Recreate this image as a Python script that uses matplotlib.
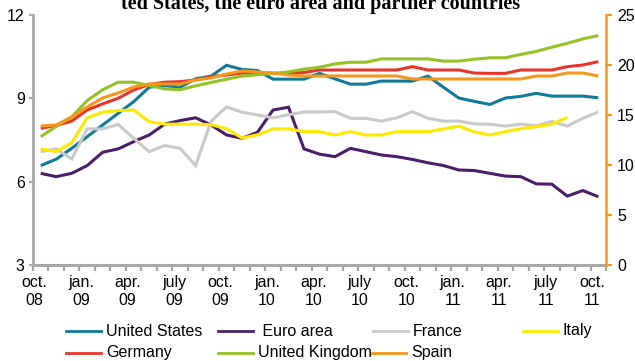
import numpy as np
import matplotlib
matplotlib.use("Agg")
import matplotlib.pyplot as plt
from matplotlib.lines import Line2D

# Monthly observations, October 2008 to October 2011
tick_labels = ["oct.\n08", "jan.\n09", "apr.\n09", "july\n09", "oct.\n09", "jan.\n10", "apr.\n10",
               "july\n10", "oct.\n10", "jan.\n11", "apr.\n11", "july\n11", "oct.\n11"]

united_states = [6.58, 6.81, 7.20, 7.62, 8.04, 8.46, 8.88, 9.40, 9.46, 9.40, 9.70, 9.80, 10.19,
                 10.04, 10.00, 9.69, 9.69, 9.69, 9.90, 9.70, 9.51, 9.51, 9.62, 9.62, 9.62, 9.80,
                 9.40, 9.01, 8.89, 8.78, 9.01, 9.07, 9.18, 9.08, 9.08, 9.08, 9.02]
euro_area = [6.30, 6.18, 6.30, 6.58, 7.06, 7.18, 7.44, 7.68, 8.07, 8.20, 8.30, 8.04, 7.68, 7.56,
             7.78, 8.58, 8.68, 7.18, 6.99, 6.90, 7.20, 7.08, 6.96, 6.90, 6.80, 6.68, 6.58, 6.42,
             6.40, 6.30, 6.20, 6.18, 5.92, 5.91, 5.48, 5.68, 5.46]
france = [7.08, 7.18, 6.82, 7.90, 7.90, 8.06, 7.56, 7.08, 7.30, 7.20, 6.58, 8.18, 8.69, 8.50,
          8.40, 8.30, 8.41, 8.51, 8.51, 8.52, 8.28, 8.28, 8.18, 8.30, 8.52, 8.28, 8.18, 8.18,
          8.08, 8.07, 8.00, 8.07, 8.01, 8.17, 8.00, 8.28, 8.51]
italy = [7.18, 7.08, 7.40, 8.30, 8.50, 8.56, 8.58, 8.16, 8.07, 8.07, 8.07, 8.05, 7.91, 7.57,
         7.69, 7.90, 7.90, 7.80, 7.80, 7.68, 7.80, 7.68, 7.68, 7.80, 7.80, 7.80, 7.90, 8.00,
         7.79, 7.68, 7.80, 7.91, 7.98, 8.07, 8.31, np.nan, np.nan]
germany = [7.92, 8.02, 8.18, 8.58, 8.80, 9.00, 9.30, 9.50, 9.58, 9.60, 9.66, 9.78, 9.84, 9.91,
           9.92, 9.90, 9.90, 9.93, 10.02, 10.02, 10.02, 10.02, 10.02, 10.02, 10.14, 10.02, 10.02,
           10.02, 9.91, 9.90, 9.90, 10.02, 10.02, 10.02, 10.14, 10.20, 10.32]
united_kingdom = [7.62, 7.99, 8.33, 8.92, 9.31, 9.58, 9.58, 9.46, 9.34, 9.31, 9.45, 9.57, 9.69,
                  9.80, 9.85, 9.90, 9.95, 10.05, 10.12, 10.24, 10.30, 10.30, 10.42, 10.42, 10.42,
                  10.42, 10.34, 10.34, 10.41, 10.46, 10.46, 10.58, 10.69, 10.84, 10.98, 11.14, 11.26]
# Spain is read on the right-hand scale
spain = [13.9, 14.0, 14.8, 15.8, 16.7, 17.2, 17.8, 18.1, 18.1, 18.1, 18.5, 18.7, 19.1, 19.4,
         19.3, 19.2, 19.0, 18.9, 18.9, 18.9, 18.9, 18.9, 18.9, 18.9, 18.6, 18.6, 18.6, 18.6,
         18.6, 18.6, 18.6, 18.6, 18.9, 18.9, 19.2, 19.2, 18.9]

left_ticks = [3, 6, 9, 12]
right_ticks = [0, 5, 10, 15, 20, 25]

C_US = "#127a99"
C_EA = "#4a1e6b"
C_FR = "#c9c9c9"
C_IT = "#ffe800"
C_DE = "#e8352c"
C_UK = "#93c224"
C_ES = "#f4981d"
AXIS_GREY = "#a8a8a8"

FONT = ["Liberation Sans", "DejaVu Sans"]
FS = 11.5

W, H = 635, 361
fig = plt.figure(figsize=(W / 100, H / 100), dpi=100)
fig.patch.set_facecolor("white")

def fx(px):
    return px / W

def fy(py):
    return 1 - py / H

ax = fig.add_axes([fx(33), fy(265), fx(606) - fx(33), fy(15) - fy(265)])
ax2 = ax.twinx()

x = np.arange(len(united_states))
lw = 2.2
left_series = [
    (united_states, C_US),
    (euro_area, C_EA),
    (france, C_FR),
    (italy, C_IT),
    (germany, C_DE),
    (united_kingdom, C_UK),
]
for vals, col in left_series:
    ax.plot(x, vals, color=col, lw=lw, solid_joinstyle="miter", solid_capstyle="butt")
ax2.plot(x, spain, color=C_ES, lw=lw, solid_joinstyle="miter", solid_capstyle="butt")

ax.set_xlim(-0.5, len(x) - 0.5)
ax.set_ylim(3, 12)
ax2.set_ylim(0, 25)

# spines
for s in ["top", "right"]:
    ax.spines[s].set_visible(False)
for s in ["top", "left", "bottom"]:
    ax2.spines[s].set_visible(False)
ax.spines["left"].set_color(AXIS_GREY)
ax.spines["left"].set_linewidth(2)
ax.spines["bottom"].set_color(AXIS_GREY)
ax.spines["bottom"].set_linewidth(2.2)
ax2.spines["right"].set_color(C_ES)
ax2.spines["right"].set_linewidth(1.8)

# y axes
ax.set_yticks(left_ticks)
ax.set_yticklabels([str(v) for v in left_ticks], family=FONT, fontsize=FS)
ax.tick_params(axis="y", direction="out", length=3, width=1.6, color=AXIS_GREY, pad=3)
ax2.set_yticks(right_ticks)
ax2.set_yticklabels([str(v) for v in right_ticks], family=FONT, fontsize=FS)
ax2.tick_params(axis="y", direction="out", length=4, width=1.6, color=C_ES, pad=4)

# x axis: month boundaries as minor ticks, quarterly labels
label_pos = np.arange(0, len(x), 3) - 0.4
ax.set_xticks(label_pos)
ax.set_xticklabels(tick_labels, family=FONT, fontsize=FS, linespacing=1.3)
ax.tick_params(axis="x", which="major", length=0, pad=7)
ax.set_xticks(np.arange(-0.5, len(x)), minor=True)
ax.tick_params(axis="x", which="minor", direction="out", length=4, width=1.6, color=AXIS_GREY)

# title, partly above the visible frame
fig.text(fx(321), fy(9), "ted States, the euro area and partner countries",
         ha="center", va="baseline", fontsize=14.5, fontweight="bold",
         family=["Liberation Serif", "DejaVu Serif"])

# legend laid out on a fixed grid
legend_items = [
    ("United States", C_US, 66, 331),
    (" Euro area", C_EA, 218, 331),
    ("France", C_FR, 373, 331),
    ("Italy", C_IT, 523, 331),
    ("Germany", C_DE, 66, 353),
    ("United Kingdom", C_UK, 218, 353),
    ("Spain", C_ES, 371, 353),
]
for name, col, px, py in legend_items:
    fig.add_artist(Line2D([fx(px), fx(px + 35)], [fy(py), fy(py)], color=col, lw=2.0,
                          transform=fig.transFigure))
    fig.text(fx(px + 40), fy(py), name, ha="left", va="center", family=FONT, fontsize=FS)

fig.savefig("out.png", dpi=100, facecolor="white")
